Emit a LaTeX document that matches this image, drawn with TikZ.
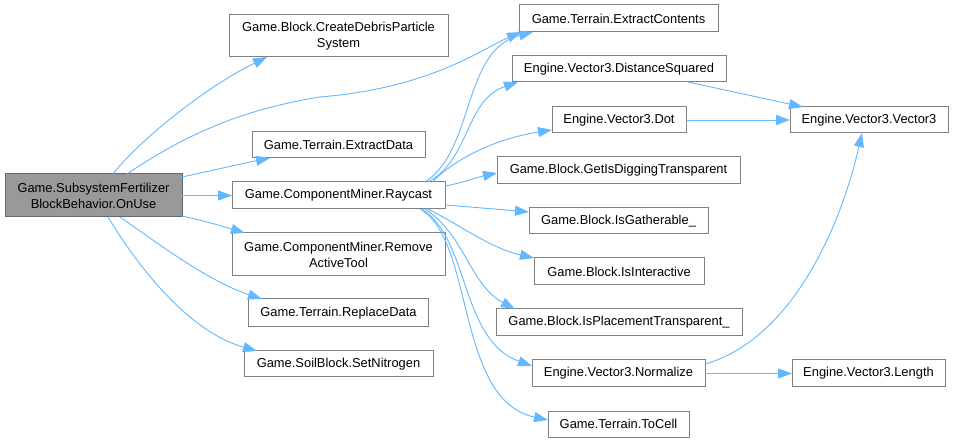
\documentclass[tikz,border=0pt]{standalone}
\usepackage{fontspec}
\setmainfont{Liberation Sans}
\usetikzlibrary{arrows.meta,calc}
\definecolor{edgeblue}{HTML}{63B8FF}
\definecolor{boxgray}{HTML}{808080}
\definecolor{hlfill}{HTML}{999999}
\definecolor{hlborder}{HTML}{666666}
\begin{document}
\begin{tikzpicture}[x=1pt,y=-1pt,
  box/.style={draw=boxgray,line width=1pt,fill=white,inner sep=0pt,outer sep=0pt,
    align=center,font=\fontsize{12.9}{16}\selectfont,anchor=north west},
  hl/.style={box,fill=hlfill,draw=hlborder},
  link/.style={draw=edgeblue,line width=0.9pt,-{Triangle[length=14pt,width=10pt]}}]
\useasboundingbox[fill=white] (0,0) rectangle (953,443);

% left column
\node[hl,minimum width=177pt,minimum height=43pt] (onuse) at (5,174) {Game.SubsystemFertilizer\\BlockBehavior.OnUse};
% middle column
\node[box,minimum width=219pt,minimum height=42pt] (debris) at (229,15) {Game.Block.CreateDebrisParticle\\System};
\node[box,minimum width=173pt,minimum height=26pt] (exdata) at (252,132) {Game.Terrain.ExtractData};
\node[box,minimum width=213pt,minimum height=27pt] (rc) at (232,182) {Game.ComponentMiner.Raycast};
\node[box,minimum width=213pt,minimum height=43pt] (remove) at (232,233) {Game.ComponentMiner.Remove\\ActiveTool};
\node[box,minimum width=180pt,minimum height=28pt] (replace) at (248.5,299) {Game.Terrain.ReplaceData};
\node[box,minimum width=189pt,minimum height=26pt] (nitro) at (244,351) {Game.SoilBlock.SetNitrogen};
% right-middle column
\node[box,minimum width=199pt,minimum height=27pt] (contents) at (519,5) {Game.Terrain.ExtractContents};
\node[box,minimum width=214pt,minimum height=26pt] (distsq) at (512,56) {Engine.Vector3.DistanceSquared};
\node[box,minimum width=134pt,minimum height=26pt] (dot) at (552,107) {Engine.Vector3.Dot};
\node[box,minimum width=243pt,minimum height=27pt] (getdig) at (497,157) {Game.Block.GetIsDiggingTransparent};
\node[box,minimum width=179pt,minimum height=26pt] (gather) at (529,208) {Game.Block.IsGatherable\_};
\node[box,minimum width=170pt,minimum height=27pt] (inter) at (534,258) {Game.Block.IsInteractive};
\node[box,minimum width=246pt,minimum height=27pt] (place) at (496,309) {Game.Block.IsPlacementTransparent\_};
\node[box,minimum width=173pt,minimum height=27pt] (norm) at (532,360) {Engine.Vector3.Normalize};
\node[box,minimum width=141pt,minimum height=26pt] (tocell) at (548,411) {Game.Terrain.ToCell};
% right column
\node[box,minimum width=158pt,minimum height=26pt] (vec) at (790,107) {Engine.Vector3.Vector3};
\node[box,minimum width=153pt,minimum height=27pt] (len) at (792,360) {Engine.Vector3.Length};

% edges from OnUse
\draw[link] ($(onuse.north west)+(108,0)$) .. controls (135,145) and (200,90) .. ($(debris.south west)+(38,0)$);
\draw[link] ($(onuse.north west)+(122,0)$) .. controls (185,135) and (240,110) .. (320,97)
  .. controls (430,88) and (480,50) .. ($(contents.south west)+(2,0)$);
\draw[link] ($(onuse.north east)+(0,3)$) .. controls (210,171) and (240,164) .. ($(exdata.south west)+(18,0)$);
\draw[link] (onuse.east) -- (rc.west);
\draw[link] ($(onuse.south east)+(0,-1)$) .. controls (205,221) and (225,227) .. ($(remove.north west)+(13,0)$);
\draw[link] ($(onuse.south west)+(115,0)$) .. controls (160,245) and (210,282) .. ($(replace.north west)+(13.5,0)$);
\draw[link] ($(onuse.south west)+(103,0)$) .. controls (140,270) and (190,332) .. ($(nitro.north west)+(13,0)$);

% edges from Raycast
\draw[link] ($(rc.north west)+(193,0)$) .. controls (475,150) and (462,50) .. ($(contents.south west)+(14,0)$);
\draw[link] ($(rc.north west)+(196,0)$) .. controls (470,160) and (465,100) .. ($(distsq.south west)+(6,0)$);
\draw[link] ($(rc.north west)+(200,0)$) .. controls (460,155) and (500,138) .. ($(dot.south west)+(0,-3)$);
\draw[link] ($(rc.north east)+(0,4)$) .. controls (462,183) and (478,177) .. ($(getdig.north west)+(0,16)$);
\draw[link] ($(rc.south east)+(0,-4)$) .. controls (470,207) and (495,209) .. ($(gather.north west)+(0,4)$);
\draw[link] ($(rc.south west)+(196,0)$) .. controls (460,225) and (490,248) .. (inter.north west);
\draw[link] ($(rc.south west)+(193,0)$) .. controls (465,235) and (470,285) .. ($(place.north west)+(19,0)$);
\draw[link] ($(rc.south west)+(190,0)$) .. controls (470,240) and (460,340) .. ($(norm.north west)+(0,6)$);
\draw[link] ($(rc.south west)+(188,0)$) .. controls (475,240) and (455,400) .. ($(tocell.north west)+(0,9)$);

% right-side edges
\draw[link] ($(distsq.south west)+(176,0)$) -- ($(vec.north west)+(13,0)$);
\draw[link] (dot.east) -- (vec.west);
\draw[link] ($(norm.north east)+(0,4)$) .. controls (790,340) and (840,230) .. ($(vec.south west)+(72,0)$);
\draw[link] (norm.east) -- (len.west);
\end{tikzpicture}
\end{document}
